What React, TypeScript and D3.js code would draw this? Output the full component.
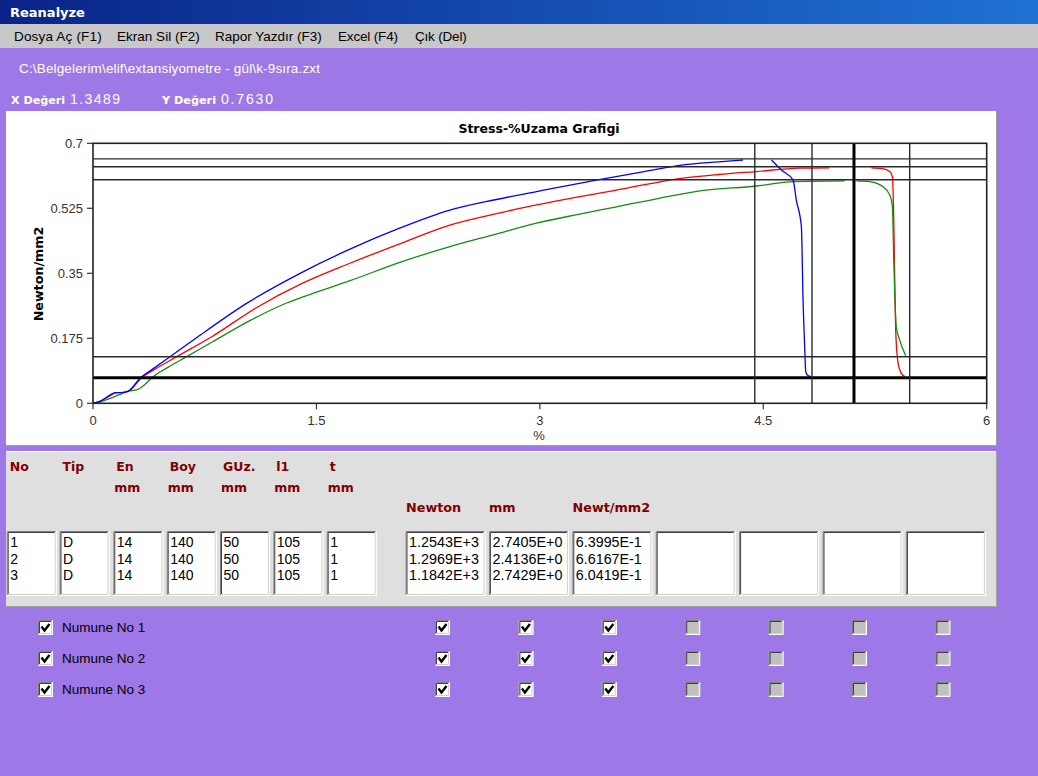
import React from 'react';
import * as d3 from 'd3';

const W = 1038;
const H = 776;

// ---- curve data (x in %, y in Newton/mm2); null = gap in the recorded line ----
const blueX = [0, 0.05, 0.114, 0.148, 0.19, 0.237, 0.315, 0.40, 0.517, 0.70, 1.031, 1.40, 1.725, 2.05, 2.396, 2.70, 2.978, 3.38, 3.70, 3.962, 4.20, 4.364, 4.45, 4.555, 4.622, 4.70, 4.722, 4.756, 4.767, 4.778, 4.785, 4.80, 4.823];
const blueY: (number | null)[] = [0, 0.006, 0.022, 0.029, 0.029, 0.033, 0.067, 0.092, 0.1255, 0.178, 0.269, 0.352, 0.415, 0.470, 0.520, 0.548, 0.570, 0.601, 0.624, 0.642, 0.650, 0.655, null, 0.655, 0.628, 0.601, 0.547, 0.475, 0.278, 0.152, 0.085, 0.075, 0.072];

const redX = [0, 0.05, 0.114, 0.16, 0.20, 0.237, 0.327, 0.40, 0.562, 0.80, 1.10, 1.40, 1.725, 2.05, 2.396, 2.70, 2.978, 3.25, 3.515, 3.75, 3.962, 4.20, 4.454, 4.745, 4.942, 5.10, 5.226, 5.30, 5.349, 5.367, 5.376, 5.383, 5.389, 5.405, 5.425, 5.45];
const redY: (number | null)[] = [0, 0.006, 0.020, 0.029, 0.029, 0.032, 0.069, 0.088, 0.1255, 0.180, 0.258, 0.322, 0.377, 0.428, 0.480, 0.510, 0.534, 0.555, 0.574, 0.592, 0.606, 0.616, 0.624, 0.633, 0.634, null, 0.634, 0.632, 0.624, 0.610, 0.494, 0.323, 0.197, 0.108, 0.082, 0.072];

const greenX = [0, 0.05, 0.114, 0.18, 0.237, 0.293, 0.34, 0.405, 0.50, 0.629, 0.80, 1.05, 1.30, 1.477, 1.725, 2.05, 2.396, 2.70, 2.978, 3.25, 3.515, 3.80, 4.074, 4.454, 4.70, 5.047, 5.09, 5.125, 5.215, 5.304, 5.349, 5.367, 5.376, 5.393, 5.416, 5.456];
const greenY: (number | null)[] = [0, 0.004, 0.013, 0.024, 0.033, 0.036, 0.048, 0.072, 0.096, 0.1255, 0.165, 0.222, 0.270, 0.296, 0.330, 0.378, 0.422, 0.455, 0.485, 0.508, 0.529, 0.552, 0.572, 0.585, 0.597, 0.599, null, 0.599, 0.597, 0.583, 0.561, 0.529, 0.386, 0.206, 0.170, 0.128];

const xTicks = [0, 1.5, 3, 4.5, 6];
const yTicks = [0, 0.175, 0.35, 0.525, 0.7];
const yTickLabels = ['0', '0.175', '0.35', '0.525', '0.7'];
const hLinesThin = [0.658, 0.637, 0.602, 0.1255];
const hLinesThick = [0.069];
const vLinesThin = [4.443, 4.827, 5.483];
const vLinesThick = [5.109];

// ---- UI texts ----
const menuItems = ['Dosya Aç (F1)', 'Ekran Sil (F2)', 'Rapor Yazdır (F3)', 'Excel (F4)', 'Çık (Del)'];
const filePath = 'C:\\Belgelerim\\elif\\extansiyometre - gül\\k-9sıra.zxt';
const xValue = '1.3489';
const yValue = '0.7630';

const headers = ['No', 'Tip', 'En', 'Boy', 'GUz.', 'l1', 't'];
const headerUnits = ['', '', 'mm', 'mm', 'mm', 'mm', 'mm'];
const colNo = ['1', '2', '3'];
const colTip = ['D', 'D', 'D'];
const colEn = ['14', '14', '14'];
const colBoy = ['140', '140', '140'];
const colGUz = ['50', '50', '50'];
const colL1 = ['105', '105', '105'];
const colT = ['1', '1', '1'];
const resultHeaders = ['Newton', 'mm', 'Newt/mm2'];
const colNewton = ['1.2543E+3', '1.2969E+3', '1.1842E+3'];
const colMm = ['2.7405E+0', '2.4136E+0', '2.7429E+0'];
const colStress = ['6.3995E-1', '6.6167E-1', '6.0419E-1'];
const sampleLabels = ['Numune No 1', 'Numune No 2', 'Numune No 3'];
const extraChecks = [true, true, true, false, false, false, false];

const SANS = "'Liberation Sans', Arial, sans-serif";
const BOLD = "'DejaVu Sans', Verdana, sans-serif";
const PURPLE = '#9d78e6';
const DARKRED = '#800000';

function Sunken({ x, y, w, h, fill = '#ffffff' }: { x: number; y: number; w: number; h: number; fill?: string }) {
  return (
    <g>
      <rect x={x} y={y} width={w} height={h} fill={fill} />
      <path d={`M${x + 0.5},${y + h - 1}V${y + 0.5}H${x + w - 1}`} stroke="#808080" fill="none" />
      <path d={`M${x + 1.5},${y + h - 2}V${y + 1.5}H${x + w - 2}`} stroke="#404040" fill="none" />
      <path d={`M${x + 0.5},${y + h - 0.5}H${x + w - 0.5}V${y + 0.5}`} stroke="#ffffff" fill="none" />
      <path d={`M${x + 1.5},${y + h - 1.5}H${x + w - 1.5}V${y + 1.5}`} stroke="#d4d0c8" fill="none" />
    </g>
  );
}

function CheckBox({ x, y, checked }: { x: number; y: number; checked: boolean }) {
  const s = 15;
  return (
    <g>
      <Sunken x={x} y={y} w={s} h={s} fill={checked ? '#ffffff' : '#c0c0c0'} />
      {checked && (
        <path d={`M${x + 3.5},${y + 6.5}L${x + 6.5},${y + 10.5}L${x + 11.5},${y + 4}`} stroke="#000" strokeWidth={2.4} fill="none" />
      )}
    </g>
  );
}

export default function App() {
  const x = d3.scaleLinear().domain([0, 6]).range([93, 986.7]);
  const y = d3.scaleLinear().domain([0, 0.7]).range([403.3, 143.3]);

  const line = d3
    .line<[number, number | null]>()
    .defined((d) => d[1] !== null)
    .x((d) => x(d[0]))
    .y((d) => y(d[1] as number))
    .curve(d3.curveMonotoneX);

  const series = [
    { xs: redX, ys: redY, color: '#ff0000' },
    { xs: greenX, ys: greenY, color: '#109010' },
    { xs: blueX, ys: blueY, color: '#0000ff' },
  ];

  const [x0, x1] = x.range();
  const [yb, yt] = y.range();

  const leftBoxX = [6.7, 59.5, 113.3, 166.7, 220, 273.3, 326.7];
  const leftCols = [colNo, colTip, colEn, colBoy, colGUz, colL1, colT];
  const rightBoxX = d3.range(7).map((i) => 405.5 + i * 83.4);
  const rightCols = [colNewton, colMm, colStress];
  const rowBase = [547, 563.5, 580];
  const menuXs = [14, 117, 215, 338, 415];
  const menuWs = [87.7, 82.7, 106.7, 60, 51.7];

  return (
    <div style={{ position: 'absolute', left: 0, top: 0 }}>
      <svg width={W} height={H} xmlns="http://www.w3.org/2000/svg" style={{ display: 'block' }}>
        <defs>
          <linearGradient id="tb" x1="0" x2="1" y1="0" y2="0">
            <stop offset="0" stopColor="#0a2388" />
            <stop offset="1" stopColor="#1f72d4" />
          </linearGradient>
        </defs>
        <rect x={0} y={0} width={W} height={H} fill={PURPLE} />
        {/* title bar */}
        <rect x={0} y={0} width={W} height={24} fill="url(#tb)" />
        <text x={10} y={17} fill="#fff" fontFamily={BOLD} fontWeight="bold" fontSize={13}>Reanalyze</text>
        {/* menu bar */}
        <rect x={0} y={24} width={W} height={24} fill="#c8c8c8" />
        {menuItems.map((m, i) => (
          <text key={m} x={menuXs[i]} y={41} fontFamily={SANS} fontSize={13.5} fill="#000" textLength={menuWs[i]} lengthAdjust="spacing">{m}</text>
        ))}
        {/* path & values */}
        <text x={19} y={73} fill="#fff" fontFamily={SANS} fontSize={13.5} textLength={301} lengthAdjust="spacing">{filePath}</text>
        <text x={11} y={103.5} fill="#fff" fontFamily={BOLD} fontWeight="bold" fontSize={11} textLength={54} lengthAdjust="spacingAndGlyphs">X Değeri</text>
        <text x={70} y={103.5} fill="#fff" fontFamily={SANS} fontSize={14} textLength={50} lengthAdjust="spacing">{xValue}</text>
        <text x={162} y={103.5} fill="#fff" fontFamily={BOLD} fontWeight="bold" fontSize={11} textLength={54} lengthAdjust="spacingAndGlyphs">Y Değeri</text>
        <text x={221} y={103.5} fill="#fff" fontFamily={SANS} fontSize={14} textLength={52} lengthAdjust="spacing">{yValue}</text>

        {/* chart panel */}
        <rect x={6} y={111} width={990} height={334} fill="#fff" />
        <path d="M996.5,111V445.5H6" stroke="#a0a0a0" fill="none" />
        <text x={539} y={133} textAnchor="middle" fontFamily={BOLD} fontWeight="bold" fontSize={12.5} fill="#000">Stress-%Uzama Grafigi</text>
        <text transform="translate(43,274) rotate(-90)" textAnchor="middle" fontFamily={BOLD} fontWeight="bold" fontSize={12.7} fill="#000">Newton/mm2</text>

        {/* curves */}
        {series.map((s, i) => (
          <path key={i} d={line(s.xs.map((v, j) => [v, s.ys[j]]) as [number, number | null][]) || ''} stroke={s.color} strokeWidth={1.3} fill="none" />
        ))}

        {/* reference lines */}
        {hLinesThin.map((v) => (
          <line key={'h' + v} x1={x0} x2={x1} y1={y(v)} y2={y(v)} stroke="#2a2a2a" strokeWidth={1.4} />
        ))}
        {hLinesThick.map((v) => (
          <line key={'H' + v} x1={x0} x2={x1} y1={y(v)} y2={y(v)} stroke="#000" strokeWidth={3} />
        ))}
        {vLinesThin.map((v) => (
          <line key={'v' + v} x1={x(v)} x2={x(v)} y1={yt} y2={yb} stroke="#2a2a2a" strokeWidth={1.4} />
        ))}
        {vLinesThick.map((v) => (
          <line key={'V' + v} x1={x(v)} x2={x(v)} y1={yt} y2={yb} stroke="#000" strokeWidth={3} />
        ))}

        {/* frame */}
        <rect x={x0} y={yt} width={x1 - x0} height={yb - yt} fill="none" stroke="#222" strokeWidth={1.6} />
        {yTicks.map((t, i) => (
          <g key={'yt' + t}>
            <line x1={x0 - 6} x2={x0} y1={y(t)} y2={y(t)} stroke="#333" strokeWidth={1.2} />
            <text x={x0 - 10} y={y(t) + 4.7} textAnchor="end" fontFamily={SANS} fontSize={13} fill="#333">{yTickLabels[i]}</text>
          </g>
        ))}
        {xTicks.map((t) => (
          <g key={'xt' + t}>
            <line x1={x(t)} x2={x(t)} y1={yb} y2={yb + 6} stroke="#333" strokeWidth={1.2} />
            <text x={x(t)} y={425} textAnchor="middle" fontFamily={SANS} fontSize={13} fill="#333">{String(t)}</text>
          </g>
        ))}
        <text x={539} y={440} textAnchor="middle" fontFamily={SANS} fontSize={13} fill="#333">%</text>

        {/* table panel */}
        <rect x={6} y={451} width={991} height={156} fill="#dfdfdf" />
        <path d="M6,451.5H996.5" stroke="#ffffff" />
        <path d="M996.5,451V606.5H6" stroke="#a0a0a0" fill="none" />
        {headers.map((h, i) => (
          <text key={'hd' + i} x={leftBoxX[i] + 3} y={471} fontFamily={BOLD} fontWeight="bold" fontSize={12.5} fill={DARKRED}>{h}</text>
        ))}
        {headerUnits.map((h, i) =>
          h ? (
            <text key={'hu' + i} x={leftBoxX[i] + 1} y={492} fontFamily={BOLD} fontWeight="bold" fontSize={12.5} fill={DARKRED}>{h}</text>
          ) : null
        )}
        {resultHeaders.map((h, i) => (
          <text key={'rh' + i} x={[406, 489, 572.5][i]} y={512} fontFamily={BOLD} fontWeight="bold" fontSize={12.8} fill={DARKRED}>{h}</text>
        ))}
        {leftBoxX.map((bx, i) => (
          <g key={'lb' + i}>
            <Sunken x={bx} y={531} w={50} h={65} />
            {leftCols[i].map((v, r) => (
              <text key={r} x={bx + 3.5} y={rowBase[r]} fontFamily={SANS} fontSize={14} fill="#000">{v}</text>
            ))}
          </g>
        ))}
        {rightBoxX.map((bx, i) => (
          <g key={'rb' + i}>
            <Sunken x={bx} y={531} w={80} h={65} />
            {(rightCols[i] || []).map((v, r) => (
              <text key={r} x={bx + 3.5} y={rowBase[r]} fontFamily={SANS} fontSize={14} fill="#000" textLength={i === 2 ? 66 : 70} lengthAdjust="spacingAndGlyphs">{v}</text>
            ))}
          </g>
        ))}

        {/* sample checkboxes */}
        {sampleLabels.map((lab, r) => {
          const cy = 620 + r * 31;
          return (
            <g key={lab}>
              <CheckBox x={38} y={cy} checked={true} />
              <text x={62} y={cy + 12} fontFamily={SANS} fontSize={13.5} fill="#000">{lab}</text>
              {extraChecks.map((c, k) => (
                <CheckBox key={k} x={435 + k * 83.4} y={cy} checked={c} />
              ))}
            </g>
          );
        })}
      </svg>
    </div>
  );
}
